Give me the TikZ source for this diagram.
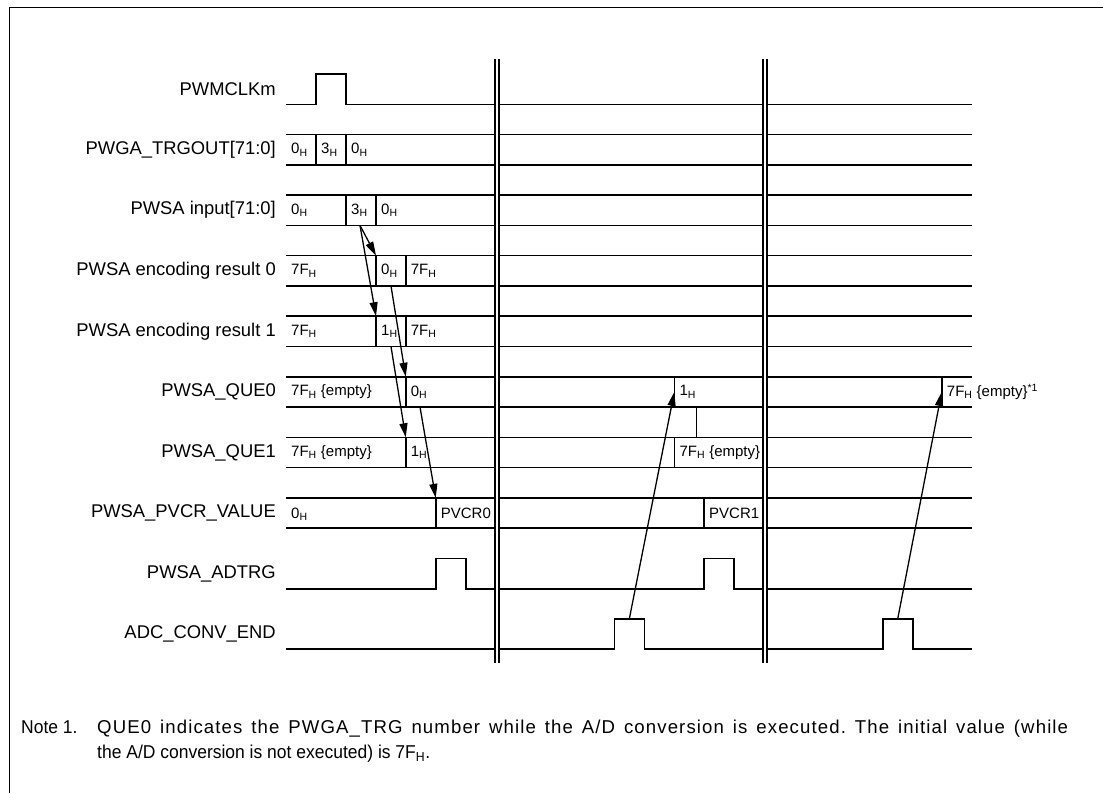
\documentclass[tikz,border=0pt]{standalone}
\usepackage{fontspec}
\setmainfont{Liberation Sans}
\newfontfamily\notefont[FakeStretch=0.94]{Liberation Sans}
\newfontfamily\notewide[LetterSpace=6]{Liberation Sans}
\usepackage{tikz}
\usetikzlibrary{arrows.meta}
\frenchspacing
\tikzset{wave/.style={line width=1.6pt},lab/.style={anchor=east,inner sep=0pt,font=\fontsize{18.4}{22}\selectfont},val/.style={anchor=west,inner sep=0pt,font=\fontsize{15}{18}\selectfont},link/.style={line width=1.3pt,-{Triangle[length=14pt,width=8pt]}},notetxt/.style={anchor=base west,inner sep=0pt,font=\notefont\fontsize{18.6}{25}\selectfont}}
\newcommand\Hs{\textsubscript{H}}

\begin{document}
\begin{tikzpicture}[x=1pt,y=-1pt]
\useasboundingbox (0,0) rectangle (1103,793);
\draw[line width=1.8pt] (1103,7.5)--(9.5,7.5)--(9.5,793);
\node[lab] (clk) at (276,89) {PWMCLKm};
\node[lab] (trgout) at (276,149.7) {PWGA\_TRGOUT[71:0]};
\node[lab] (inp) at (276,210.2) {PWSA input[71:0]};
\node[lab] (enc0) at (276,270.8) {PWSA encoding result 0};
\node[lab] (enc1) at (276,331.3) {PWSA encoding result 1};
\node[lab] (que0) at (276,391.9) {PWSA\_QUE0};
\node[lab] (que1) at (276,452.4) {PWSA\_QUE1};
\node[lab] (pvcr) at (276,513) {PWSA\_PVCR\_VALUE};
\node[lab] (adtrg) at (276,573.5) {PWSA\_ADTRG};
\node[lab] (adc) at (276,634.1) {ADC\_CONV\_END};
\foreach \y in {134.55,195.1,255.65,316.2,376.75,437.3,497.85}
  \draw[wave] (286,\y)--(972,\y) (286,\y+30.3)--(972,\y+30.3);
\foreach \x/\y in {316/134.55,346/134.55,346/195.1,376/195.1,376/255.65,405.7/255.65,376/316.2,405.7/316.2,405.7/376.75,674.3/376.75,941.7/376.75,405.7/437.3,674.3/437.3,435.7/497.85,704/497.85}
  \draw[wave] (\x,\y)--++(0,30.3);
\draw[line width=0.9pt] (696,407.05)--(696,437.3);
\draw[wave] (286,104.3)--(316,104.3)--(316,74)--(346,74)--(346,104.3)--(972,104.3);
\draw[wave] (286,588.7)--(435.7,588.7)--(435.7,558.4)--(465.7,558.4)--(465.7,588.7)--(704,588.7)--(704,558.4)--(734,558.4)--(734,588.7)--(972,588.7);
\draw[wave] (286,649.25)--(614.3,649.25)--(614.3,618.95)--(644.3,618.95)--(644.3,649.25)--(882.7,649.25)--(882.7,618.95)--(912.7,618.95)--(912.7,649.25)--(972,649.25);
% values on the buses
\foreach \x/\y/\t [count=\i] in {291/149.7/0\Hs,321/149.7/3\Hs,351/149.7/0\Hs,
  291/210.2/0\Hs,351/210.2/3\Hs,381/210.2/0\Hs,
  291/270.8/7F\Hs,381/270.8/0\Hs,410.7/270.8/7F\Hs,
  291/331.3/7F\Hs,381/331.3/1\Hs,410.7/331.3/7F\Hs,
  291/391.9/7F\Hs\ \{empty\},410.7/391.9/0\Hs,679.3/391.9/1\Hs,946.7/391.9/7F\Hs\ \{empty\}\textsuperscript{*1},
  291/452.4/7F\Hs\ \{empty\},410.7/452.4/1\Hs,679.3/452.4/7F\Hs\ \{empty\},
  291/514/0\Hs,440.7/513/PVCR0,709/513/PVCR1}
  \node[val] (v\i) at (\x,\y) {\t};
% arrows
\coordinate (inB) at (360,225.4);
\coordinate (e0T) at (376,255.65);
\coordinate (e1T) at (376,316.2);
\coordinate (e0B) at (391,286);
\coordinate (q0T) at (405.7,376.75);
\coordinate (e1B) at (391,346.5);
\coordinate (q1T) at (405.7,437.3);
\coordinate (q0B) at (420,407.05);
\coordinate (pvT) at (435.7,497.85);
\coordinate (ad1) at (629.3,618.95);
\coordinate (q0a) at (674.3,392);
\coordinate (ad2) at (897.7,618.95);
\coordinate (q0b) at (941.7,392);
\draw[link] (inB)--(e0T);
\draw[link] (inB)--(e1T);
\draw[link] (e0B)--(q0T);
\draw[link] (e1B)--(q1T);
\draw[link] (q0B)--(pvT);
\draw[link] (ad1)--(q0a);
\draw[link] (ad2)--(q0b);
% break bars
\foreach \x in {495,763}{
  \fill[white] (\x,59) rectangle (\x+4,663);
  \draw[line width=1.2pt] (\x,59)--(\x,663) (\x+4,59)--(\x+4,663);
}
\node[notetxt] (note) at (21,733) {Note 1.};
\node[notetxt] (note1) at (97,733) {\makebox[971pt][s]{\notewide\fontsize{18.6}{25}\selectfont QUE0 indicates the PWGA\_TRG number while the A/D conversion is executed. The initial value (while}};
\node[notetxt] (note2) at (97,758) {the A/D conversion is not executed) is 7F\textsubscript{H}.};
\end{tikzpicture}
\end{document}
